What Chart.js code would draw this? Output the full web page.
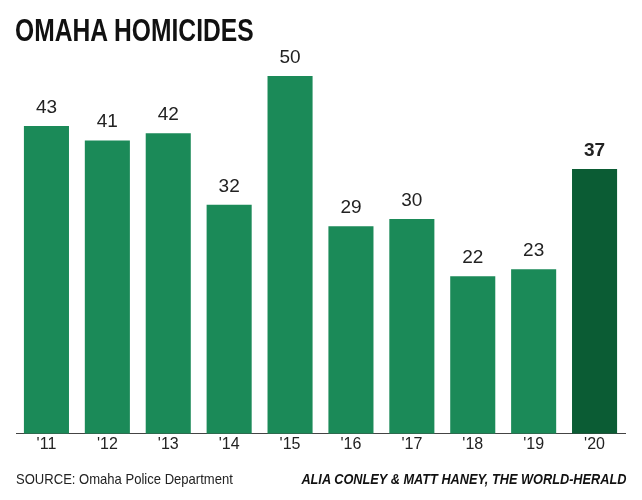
<!DOCTYPE html>
<html><head><meta charset="utf-8">
<script src="https://cdn.jsdelivr.net/npm/chart.js@4"></script>
<style>
body{margin:0;background:#fff;}
#wrap{position:relative;width:642px;height:500px;}
#title{position:absolute;left:15px;top:12px;font-family:'Liberation Sans',sans-serif;font-weight:bold;font-size:32px;color:#111;transform:scaleX(0.77);transform-origin:left top;white-space:nowrap;}
#src{position:absolute;left:16px;top:470px;font-family:'Liberation Sans',sans-serif;font-size:15px;color:#222;transform:scaleX(0.87);transform-origin:left top;white-space:nowrap;}
#cred{position:absolute;right:16px;top:470px;font-family:'Liberation Sans',sans-serif;font-size:15px;font-weight:bold;font-style:italic;color:#111;transform:scaleX(0.85);transform-origin:right top;white-space:nowrap;}
</style></head>
<body><div id="wrap"><canvas id="c" width="642" height="500"></canvas>
<div id="title">OMAHA HOMICIDES</div>
<div id="src">SOURCE: Omaha Police Department</div>
<div id="cred">ALIA CONLEY &amp; MATT HANEY, THE WORLD-HERALD</div></div>
<script>
const categories = ["'11","'12","'13","'14","'15","'16","'17","'18","'19","'20"];
const homicides = [43,41,42,32,50,29,30,22,23,37];
const colors = homicides.map((v,i)=> i===homicides.length-1 ? '#0b5c34' : '#1b8a58');
const labelPlugin = {id:'lbl',afterDatasetsDraw(chart){
  const ctx=chart.ctx; const meta=chart.getDatasetMeta(0);
  ctx.save(); ctx.textAlign='center'; ctx.textBaseline='bottom'; ctx.fillStyle='#222';
  meta.data.forEach((bar,i)=>{
    const last=i===homicides.length-1;
    ctx.font=(last?'bold ':'')+'19px "Liberation Sans", sans-serif';
    ctx.fillText(homicides[i], bar.x, bar.y-9);
  }); ctx.restore();}};
new Chart(document.getElementById('c'),{
  type:'bar',
  data:{labels:categories,datasets:[{data:homicides,backgroundColor:colors,barPercentage:0.74,categoryPercentage:1}]},
  options:{responsive:false,animation:false,
    layout:{padding:{top:76,left:16,right:17,bottom:45}},
    plugins:{legend:{display:false},tooltip:{enabled:false}},
    scales:{
      y:{display:false,min:0,max:50},
      x:{grid:{display:false,drawTicks:false,tickLength:0},border:{display:true,color:'#444'},
         ticks:{color:'#222',font:{size:16,family:'"Liberation Sans", sans-serif'},padding:1}}
    }},
  plugins:[labelPlugin]});
</script></body></html>
